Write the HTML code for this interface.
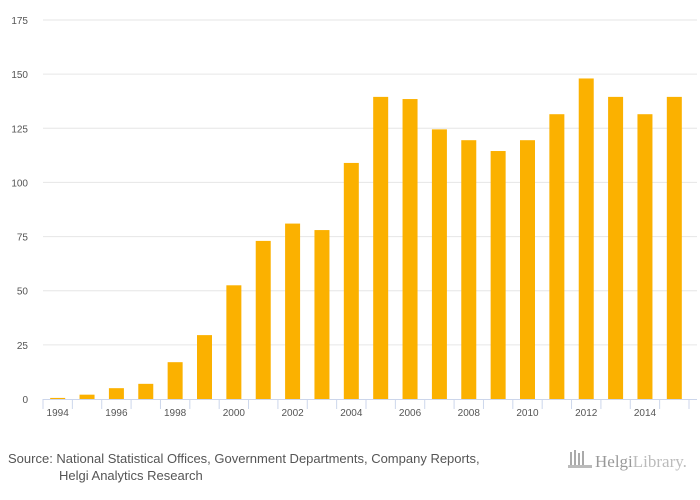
<!DOCTYPE html>
<html><head><meta charset="utf-8"><style>
body{margin:0;background:#fff;font-family:"Liberation Sans",sans-serif;}
svg{display:block}
</style></head><body>
<svg width="700" height="500" viewBox="0 0 700 500">
<rect width="700" height="500" fill="#ffffff"/>
<g id="grid"></g><g id="bars"></g><g id="axis"></g>
<text x="8" y="463" font-size="13" fill="#555">Source: National Statistical Offices, Government Departments, Company Reports,</text>
<text x="59" y="480" font-size="13" fill="#555">Helgi Analytics Research</text>
<g>
<rect x="570" y="452" width="2" height="14" fill="#aaa"/><rect x="574" y="450" width="2" height="16" fill="#aaa"/><rect x="578" y="453" width="2" height="13" fill="#aaa"/><rect x="582" y="451" width="2" height="15" fill="#aaa"/><rect x="568" y="465" width="24" height="3" fill="#bbb"/>
<text x="595" y="467" font-size="17" fill="#999" font-family="Liberation Serif, serif">Helgi<tspan fill="#bbb">Library.</tspan></text>
</g>
</svg>
<script>
const years=["1994","1995","1996","1997","1998","1999","2000","2001","2002","2003","2004","2005","2006","2007","2008","2009","2010","2011","2012","2013","2014","2015"];
const values=[0.5,2,5,7,17,29.5,52.5,73,81,78,109,139.5,138.5,124.5,119.5,114.5,119.5,131.5,148,139.5,131.5,139.5];
const yTicks=[0,25,50,75,100,125,150,175];
const ns="http://www.w3.org/2000/svg";
const x0=43,x1=689,y0=399,yTop=20,yMax=175;
const bw=(x1-x0)/years.length;
const ys=v=>y0-(v/yMax)*(y0-yTop);
const xs=i=>x0+bw*i+bw/2;
function mk(t,a,p){const e=document.createElementNS(ns,t);for(const k in a)e.setAttribute(k,a[k]);p.appendChild(e);return e;}
const grid=document.getElementById('grid'),bars=document.getElementById('bars'),axis=document.getElementById('axis');
yTicks.forEach(t=>{
 if(t>0){const l=mk('line',{x1:x0,x2:697,y1:ys(t),y2:ys(t),stroke:'#e6e6e6','stroke-width':1},grid);
 
 }
 const tx=mk('text',{x:28,y:ys(t)+4,'font-size':10,fill:'#555','text-anchor':'end'},axis);tx.textContent=t;
 
 
});
values.forEach((v,i)=>{
 const r=mk('rect',{x:xs(i)-7.5,y:ys(v),width:15,height:y0-ys(v),fill:'#fbb100'},bars);
 
 
});
const al=mk('line',{x1:x0,x2:697,y1:y0+0.5,y2:y0+0.5,stroke:'#ccd6eb'},axis);


for(let i=0;i<=years.length;i++){const tk=mk('line',{x1:x0+bw*i,x2:x0+bw*i,y1:y0,y2:y0+10,stroke:'#ccd6eb'},axis);
 
 }
years.forEach((y,i)=>{if(i%2)return;
 const t=mk('text',{x:xs(i),y:y0+17,'font-size':10,fill:'#555','text-anchor':'middle'},axis);t.textContent=y;
 
 });
</script>
</body></html>
